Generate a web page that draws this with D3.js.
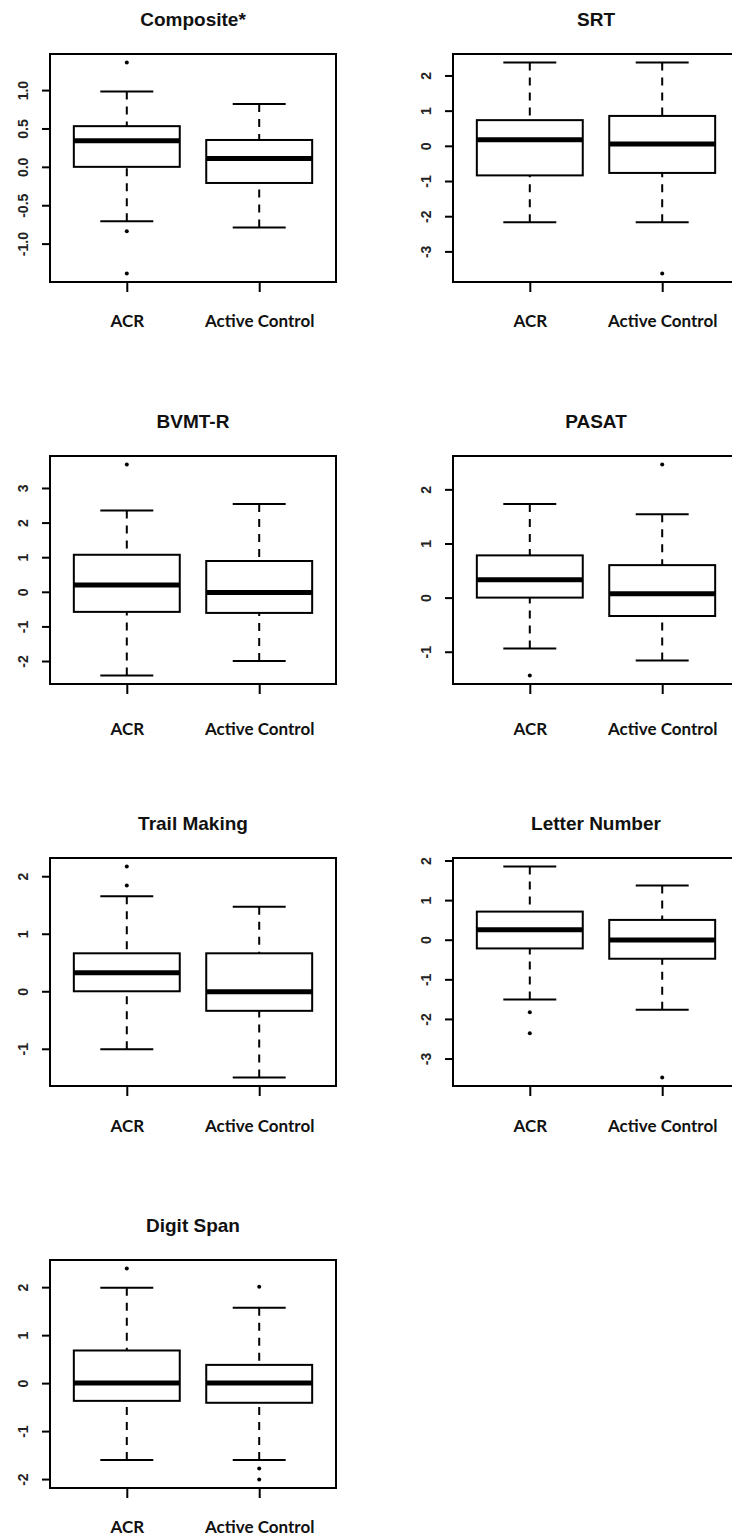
<!DOCTYPE html>
<html lang="en">
    <head>
        <meta charset="utf-8">
        <title>Boxplots</title>
        <script type="text/javascript" src="https://d3js.org/d3.v7.min.js"></script>
        <style type="text/css">
            body { margin: 0; background: white; }
            .title { font-family: "Liberation Sans", Arial, sans-serif; font-weight: bold; font-size: 19px; fill: #111; }
            .yaxis text { font-family: "Liberation Sans", Arial, sans-serif; font-weight: bold; font-size: 14px; fill: #222; }
            .xaxis text { font-family: Lato, "Open Sans", sans-serif; font-weight: bold; font-size: 17px; fill: #111; }
            .axis line { stroke: black; stroke-width: 2px; }
        </style>
    </head>
    <body>
        <script type="text/javascript">

            var titles = ["Composite*", "SRT", "BVMT-R", "PASAT", "Trail Making", "Letter Number", "Digit Span"];
            var groups = ["ACR", "Active Control"];

            // [lower whisker, Q1, median, Q3, upper whisker]
            var acrStats = [
                [-0.71, 0.00, 0.34, 0.53, 0.98],
                [-2.17, -0.84, 0.17, 0.73, 2.37],
                [-2.42, -0.58, 0.20, 1.07, 2.35],
                [-0.94, 0.00, 0.33, 0.78, 1.73],
                [-1.01, 0.00, 0.32, 0.66, 1.65],
                [-1.51, -0.22, 0.25, 0.71, 1.85],
                [-1.60, -0.37, 0.00, 0.68, 1.99]
            ];
            var controlStats = [
                [-0.79, -0.21, 0.11, 0.35, 0.82],
                [-2.17, -0.77, 0.05, 0.85, 2.37],
                [-2.00, -0.61, -0.02, 0.89, 2.54],
                [-1.16, -0.34, 0.07, 0.60, 1.54],
                [-1.50, -0.34, -0.01, 0.66, 1.47],
                [-1.77, -0.48, -0.01, 0.50, 1.37],
                [-1.60, -0.41, 0.00, 0.38, 1.57]
            ];
            var acrOutliers = [[1.36, -0.84, -1.39], [], [3.68], [-1.44], [2.17, 1.84], [-1.83, -2.36], [2.39]];
            var controlOutliers = [[], [-3.63], [], [2.46], [], [-3.48], [2.01, -1.78, -2.01]];

            var yTicks = [
                [-1, -0.5, 0, 0.5, 1],
                [-3, -2, -1, 0, 1, 2],
                [-2, -1, 0, 1, 2, 3],
                [-1, 0, 1, 2],
                [-1, 0, 1, 2],
                [-3, -2, -1, 0, 1, 2],
                [-2, -1, 0, 1, 2]
            ];

            var w = 732, h = 1540;
            var frameW = 286, frameH = 228;
            var colX = [50, 453];
            var rowY = [54, 456, 858, 1260];
            var labelDy = [45, 51, 46, 45];

            var svg = d3.select("body")
                        .append("svg")
                        .attr("width", w)
                        .attr("height", h);

            titles.forEach(function(title, i) {
                var left = colX[i % 2], top = rowY[Math.floor(i / 2)];
                var stats = [acrStats[i], controlStats[i]];
                var outs = [acrOutliers[i], controlOutliers[i]];

                var all = stats[0].concat(stats[1], outs[0], outs[1]);
                var lo = d3.min(all), hi = d3.max(all);
                var pad = 0.04 * (hi - lo);

                var xscale = d3.scaleLinear()
                    .domain([0.42, 2.58])
                    .range([left, left + frameW]);
                var yscale = d3.scaleLinear()
                    .domain([lo - pad, hi + pad])
                    .range([top + frameH, top]);

                var g = svg.append("g");

                g.append("text")
                    .attr("class", "title")
                    .attr("x", left + frameW / 2)
                    .attr("y", top - 28)
                    .attr("text-anchor", "middle")
                    .text(title);

                // y axis, labels rotated like R
                var fmt = i == 0 ? function(d) { return d.toFixed(1); } : function(d) { return String(d); };
                var yAxis = g.append("g")
                    .attr("class", "axis yaxis")
                    .attr("transform", "translate(" + left + ",0)")
                    .call(d3.axisLeft(yscale).tickValues(yTicks[i]).tickSize(8).tickSizeOuter(0).tickFormat(fmt));
                yAxis.select(".domain").remove();
                yAxis.selectAll("text")
                    .attr("transform", "rotate(-90)")
                    .attr("x", 0)
                    .attr("y", -22)
                    .attr("dy", 0)
                    .attr("text-anchor", "middle");

                var xAxis = g.append("g")
                    .attr("class", "axis xaxis")
                    .attr("transform", "translate(0," + (top + frameH) + ")")
                    .call(d3.axisBottom(xscale).tickValues([1, 2]).tickSize(10).tickSizeOuter(0)
                        .tickFormat(function(d) { return groups[d - 1]; }));
                xAxis.select(".domain").remove();
                xAxis.selectAll("text")
                    .attr("y", labelDy[Math.floor(i / 2)])
                    .attr("dy", 0);

                stats.forEach(function(s, k) {
                    var c = k + 1;
                    // dashed whiskers from caps to hinges
                    g.selectAll(null)
                        .data([[s[0], s[1]], [s[4], s[3]]])
                        .enter()
                        .append("line")
                        .attr("x1", xscale(c)).attr("x2", xscale(c))
                        .attr("y1", function(d) { return yscale(d[0]); })
                        .attr("y2", function(d) { return yscale(d[1]); })
                        .attr("stroke", "black")
                        .attr("stroke-width", 2)
                        .attr("stroke-dasharray", "8,7");

                    g.selectAll(null)
                        .data([s[0], s[4]])
                        .enter()
                        .append("line")
                        .attr("x1", xscale(c - 0.2)).attr("x2", xscale(c + 0.2))
                        .attr("y1", function(d) { return yscale(d); })
                        .attr("y2", function(d) { return yscale(d); })
                        .attr("stroke", "black")
                        .attr("stroke-width", 2);

                    g.append("rect")
                        .attr("x", xscale(c - 0.4))
                        .attr("width", xscale(c + 0.4) - xscale(c - 0.4))
                        .attr("y", yscale(s[3]))
                        .attr("height", yscale(s[1]) - yscale(s[3]))
                        .attr("fill", "white")
                        .attr("stroke", "black")
                        .attr("stroke-width", 2);

                    g.append("line")
                        .attr("x1", xscale(c - 0.4)).attr("x2", xscale(c + 0.4))
                        .attr("y1", yscale(s[2])).attr("y2", yscale(s[2]))
                        .attr("stroke", "black")
                        .attr("stroke-width", 5);

                    g.selectAll(null)
                        .data(outs[k])
                        .enter()
                        .append("circle")
                        .attr("cx", xscale(c))
                        .attr("cy", function(d) { return yscale(d); })
                        .attr("r", 2)
                        .attr("fill", "black");
                });

                g.append("rect")
                    .attr("x", left)
                    .attr("y", top)
                    .attr("width", frameW)
                    .attr("height", frameH)
                    .attr("fill", "none")
                    .attr("stroke", "black")
                    .attr("stroke-width", 2);
            });

        </script>
    </body>
</html>
